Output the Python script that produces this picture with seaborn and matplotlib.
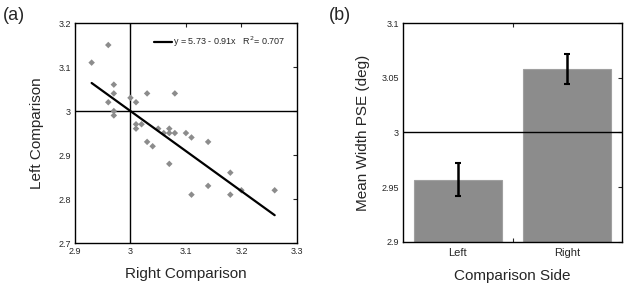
import numpy as np
import pandas as pd
import matplotlib
matplotlib.use("Agg")
import matplotlib.pyplot as plt
import seaborn as sns

sns.set_style("white")
plt.rcParams.update({
    "font.family": ["Liberation Sans", "DejaVu Sans"],
    "axes.linewidth": 1.0,
    "axes.edgecolor": "black",
})

# ── data ──────────────────────────────────────────────────────────────────────
right_cmp = [2.93, 2.96, 2.97, 2.97, 2.96, 3.00, 3.01, 3.03, 3.08, 2.97, 2.97,
             3.01, 3.02, 3.01, 3.05, 3.06, 3.07, 3.07, 3.08, 3.10, 3.11, 3.14,
             3.03, 3.04, 3.07, 3.18, 3.14, 3.11, 3.18, 3.20, 3.26]
left_cmp = [3.11, 3.15, 3.06, 3.04, 3.02, 3.03, 3.02, 3.04, 3.04, 3.00, 2.99,
            2.97, 2.97, 2.96, 2.96, 2.95, 2.96, 2.95, 2.95, 2.95, 2.94, 2.93,
            2.93, 2.92, 2.88, 2.86, 2.83, 2.81, 2.81, 2.82, 2.82]
fit_intercept = 5.73
fit_slope = -0.91
fit_r2 = 0.707

sides = ["Left", "Right"]
pse_mean = [2.957, 3.058]
pse_err = [0.015, 0.014]

GREY = "#8c8c8c"

fig = plt.figure(figsize=(6.25, 2.84), dpi=100)
ax1 = fig.add_axes([0.12, 0.144, 0.355, 0.775])
ax2 = fig.add_axes([0.645, 0.148, 0.350, 0.771])

# ── (a) scatter + fit ─────────────────────────────────────────────────────────
df = pd.DataFrame({"right": right_cmp, "left": left_cmp})
sns.scatterplot(data=df, x="right", y="left", marker="D", s=11,
                color=GREY, edgecolor="none", ax=ax1, zorder=3)

xfit = np.array([min(right_cmp), max(right_cmp)])
fit = pd.DataFrame({"x": xfit, "y": fit_intercept + fit_slope * xfit})
sns.lineplot(data=fit, x="x", y="y", color="black", linewidth=1.6, ax=ax1,
             label=f"y = {fit_intercept:.2f} - {abs(fit_slope):.2f}x   "
                   f"R$^2$= {fit_r2:.3f}", zorder=4)

ax1.axvline(3.0, color="black", linewidth=1.0, zorder=2)
ax1.axhline(3.0, color="black", linewidth=1.0, zorder=2)
ax1.set_xlim(2.9, 3.3)
ax1.set_ylim(2.7, 3.2)
ax1.set_xticks([2.9, 3.0, 3.1, 3.2, 3.3])
ax1.set_xticklabels(["2.9", "3", "3.1", "3.2", "3.3"])
ax1.set_yticks([2.7, 2.8, 2.9, 3.0, 3.1, 3.2])
ax1.set_yticklabels(["2.7", "2.8", "2.9", "3", "3.1", "3.2"])
ax1.tick_params(direction="in", length=3, width=0.8, labelsize=6.5,
                top=True, right=True, pad=3)
ax1.set_xlabel("Right Comparison", fontsize=11, labelpad=8)
ax1.set_ylabel("Left Comparison", fontsize=11, labelpad=10)
leg = ax1.legend(loc="upper right", frameon=False, fontsize=6.5,
                 handlelength=2.0, handletextpad=0.1, borderaxespad=0.9)

# ── (b) bars ──────────────────────────────────────────────────────────────────
bars = pd.DataFrame({"side": sides, "pse": pse_mean})
sns.barplot(data=bars, x="side", y="pse", color=GREY, saturation=1,
            edgecolor="#a0a0a0", linewidth=0.8, width=0.8, ax=ax2, zorder=2)
centers = [p.get_x() + p.get_width() / 2 for p in ax2.patches]
ax2.errorbar(centers, pse_mean, yerr=pse_err, fmt="none", ecolor="black",
             elinewidth=1.8, capsize=2, capthick=1.5, zorder=4)
ax2.axhline(3.0, color="black", linewidth=1.0, zorder=3)
ax2.set_ylim(2.9, 3.1)
ax2.set_xlim(-0.5, 1.5)
ax2.set_yticks([2.9, 2.95, 3.0, 3.05, 3.1])
ax2.set_yticklabels(["2.9", "2.95", "3", "3.05", "3.1"])
ax2.set_xticks([0.5], minor=True)
ax2.tick_params(axis="y", direction="in", length=3, width=0.8, labelsize=6.5,
                right=True, pad=3)
ax2.tick_params(axis="x", which="major", length=0, labelsize=8, pad=4)
ax2.tick_params(axis="x", which="minor", direction="in", length=3, width=0.8,
                top=True, bottom=True)
ax2.set_xlabel("Comparison Side", fontsize=11, labelpad=8)
ax2.set_ylabel("Mean Width PSE (deg)", fontsize=11, labelpad=8)

for ax in (ax1, ax2):
    for s in ax.spines.values():
        s.set_visible(True)
        s.set_color("black")

fig.text(0.005, 0.975, "(a)", fontsize=13, va="top", ha="left")
fig.text(0.527, 0.975, "(b)", fontsize=13, va="top", ha="left")

fig.savefig("out.png", dpi=100)
